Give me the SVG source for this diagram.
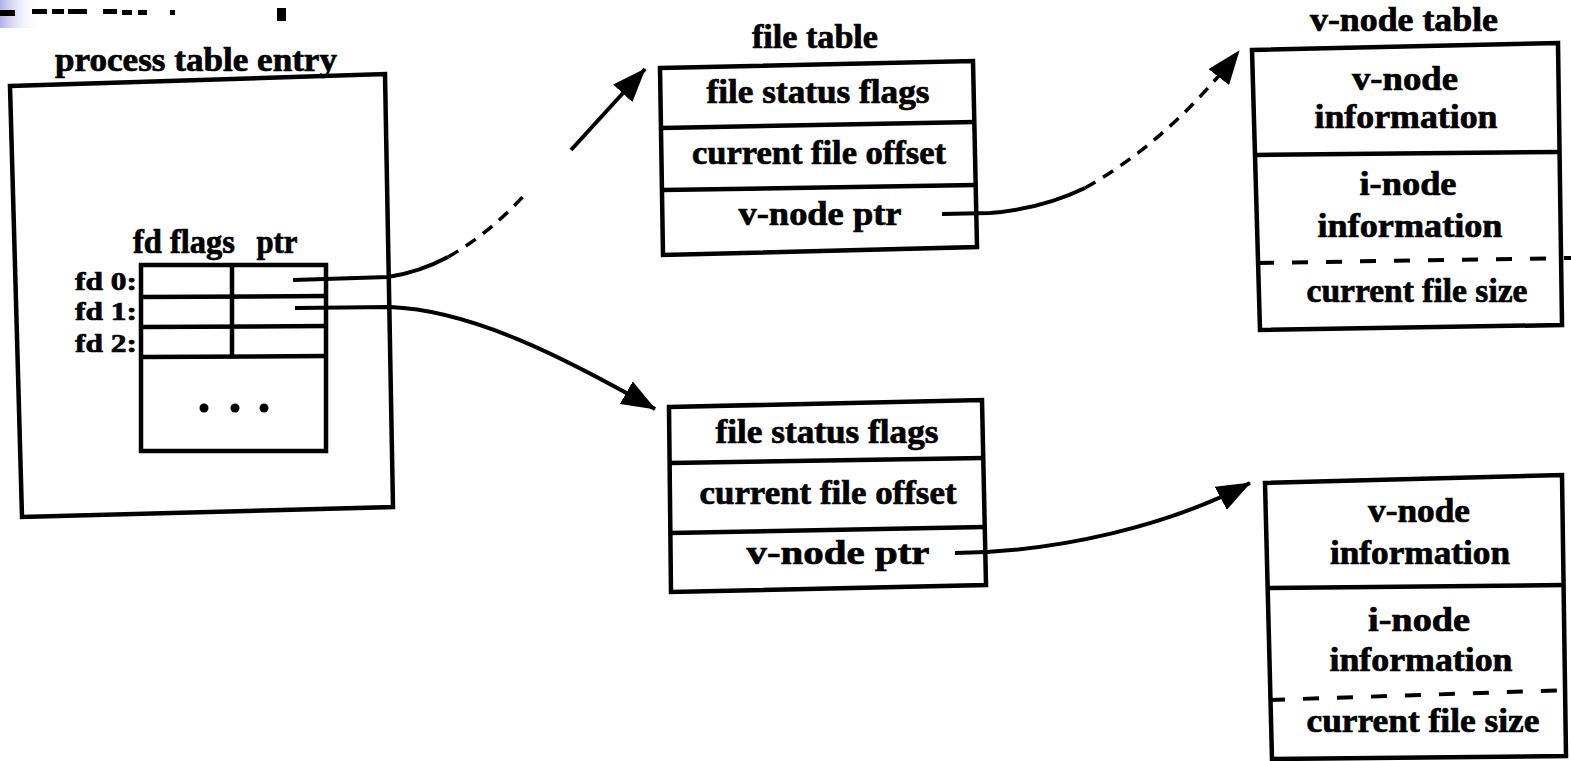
<svg xmlns="http://www.w3.org/2000/svg" width="1571" height="761" viewBox="0 0 1571 761">
<style>
.box{fill:none;stroke:#000;stroke-width:4.5;stroke-linejoin:miter}
.ln{fill:none;stroke:#000;stroke-width:4.5}
.dl{fill:none;stroke:#000;stroke-width:4;stroke-dasharray:16 18}
.cn{fill:none;stroke:#000;stroke-width:4}
.cd{fill:none;stroke:#000;stroke-width:3.5;stroke-dasharray:12 9}
text{font-family:"Liberation Serif","DejaVu Serif",serif;font-weight:bold;font-size:33px;fill:#000;stroke:#000;stroke-width:0.7;text-anchor:middle}
.fd{font-size:26px}
</style>
<defs>
<linearGradient id="bg" x1="0" y1="0" x2="1" y2="0"><stop offset="0" stop-color="#aeb2e6"/><stop offset="1" stop-color="#fff" stop-opacity="0"/></linearGradient>
<marker id="ah" markerUnits="userSpaceOnUse" markerWidth="36" markerHeight="26" refX="33" refY="13" orient="auto"><path d="M0,0 L34,13 L0,26 z" fill="#000"/></marker>
</defs>
<rect width="1571" height="761" fill="#fff"/>
<g id="fragments">
<rect x="0" y="0" width="40" height="28" fill="url(#bg)"/>
<rect x="0" y="10" width="15" height="6"/>
<rect x="32" y="9" width="15" height="5"/>
<rect x="52" y="9" width="12" height="5"/>
<rect x="68" y="9" width="19" height="5"/>
<rect x="103" y="9" width="14" height="5"/>
<rect x="122" y="10" width="10" height="5"/>
<rect x="138" y="10" width="9" height="5"/>
<rect x="170" y="10" width="5" height="5"/>
<rect x="277" y="8" width="9" height="13"/>
</g>
<g id="process-table-entry">
<text x="196" y="71" textLength="282" lengthAdjust="spacingAndGlyphs">process table entry</text>
<polygon class="box" points="10,86 385,74 393,507 22,517"/>
<text x="184" y="253" textLength="102" lengthAdjust="spacingAndGlyphs" font-size="30">fd flags</text>
<text x="277" y="253" textLength="41" lengthAdjust="spacingAndGlyphs" font-size="30">ptr</text>
<text class="fd" x="106" y="290" textLength="62" lengthAdjust="spacingAndGlyphs">fd 0:</text>
<text class="fd" x="106" y="320" textLength="62" lengthAdjust="spacingAndGlyphs">fd 1:</text>
<text class="fd" x="106" y="352" textLength="62" lengthAdjust="spacingAndGlyphs">fd 2:</text>
<rect class="box" x="141" y="265" width="185" height="186"/>
<line class="ln" x1="141" y1="297" x2="326" y2="296"/>
<line class="ln" x1="141" y1="327" x2="326" y2="326"/>
<line class="ln" x1="141" y1="357" x2="326" y2="356"/>
<line class="ln" x1="232" y1="265" x2="232" y2="357"/>
<circle cx="204" cy="408" r="4.5"/>
<circle cx="235" cy="408" r="4.5"/>
<circle cx="264" cy="408" r="4.5"/>
</g>
<g id="file-table-1">
<text x="815" y="48" textLength="126" lengthAdjust="spacingAndGlyphs" font-size="30">file table</text>
<polygon class="box" points="660,68 973,61 977,247 663,255"/>
<line class="ln" x1="661" y1="128" x2="975" y2="122"/>
<line class="ln" x1="662" y1="190" x2="976" y2="185"/>
<text x="818" y="103" textLength="223" lengthAdjust="spacingAndGlyphs">file status flags</text>
<text x="819" y="164" textLength="254" lengthAdjust="spacingAndGlyphs">current file offset</text>
<text x="820" y="225" textLength="163" lengthAdjust="spacingAndGlyphs">v-node ptr</text>
</g>
<g id="file-table-2">
<polygon class="box" points="669,407 982,400 986,585 671,592"/>
<line class="ln" x1="670" y1="463" x2="984" y2="458"/>
<line class="ln" x1="670" y1="533" x2="985" y2="527"/>
<text x="827" y="443" textLength="223" lengthAdjust="spacingAndGlyphs">file status flags</text>
<text x="828" y="504" textLength="257" lengthAdjust="spacingAndGlyphs">current file offset</text>
<text x="838" y="564" textLength="183" lengthAdjust="spacingAndGlyphs">v-node ptr</text>
</g>
<g id="v-node-table-1">
<text x="1404" y="31" textLength="188" lengthAdjust="spacingAndGlyphs" font-size="30">v-node table</text>
<polygon class="box" points="1252,50 1558,43 1562,325 1260,330"/>
<line class="ln" x1="1255" y1="155" x2="1560" y2="152"/>
<line class="dl" x1="1258" y1="263" x2="1571" y2="258"/>
<text x="1405" y="90" textLength="106" lengthAdjust="spacingAndGlyphs">v-node</text>
<text x="1406" y="128" textLength="183" lengthAdjust="spacingAndGlyphs">information</text>
<text x="1408" y="195" textLength="97" lengthAdjust="spacingAndGlyphs">i-node</text>
<text x="1410" y="237" textLength="185" lengthAdjust="spacingAndGlyphs">information</text>
<text x="1417" y="302" textLength="221" lengthAdjust="spacingAndGlyphs">current file size</text>
</g>
<g id="v-node-table-2">
<polygon class="box" points="1265,483 1562,475 1566,756 1272,759"/>
<line class="ln" x1="1267" y1="588" x2="1564" y2="585"/>
<line class="dl" x1="1269" y1="700" x2="1571" y2="690"/>
<text x="1419" y="522" textLength="102" lengthAdjust="spacingAndGlyphs">v-node</text>
<text x="1420" y="564" textLength="180" lengthAdjust="spacingAndGlyphs">information</text>
<text x="1419" y="631" textLength="102" lengthAdjust="spacingAndGlyphs">i-node</text>
<text x="1421" y="671" textLength="183" lengthAdjust="spacingAndGlyphs">information</text>
<text x="1423" y="732" textLength="233" lengthAdjust="spacingAndGlyphs">current file size</text>
</g>
<g id="connectors">
<path class="cn" d="M293,280 L388,277 Q420,272 448,257"/>
<path class="cd" d="M448,257 Q492,232 528,191"/>
<path class="cn" d="M571,150 L645,69" marker-end="url(#ah)"/>
<path class="cn" d="M295,308 L390,307 C470,310 560,355 655,409" marker-end="url(#ah)"/>
<path class="cn" d="M942,214 L990,213 C1030,210 1060,200 1085,188"/>
<path class="cd" d="M1085,188 Q1170,140 1239,51" marker-end="url(#ah)"/>
<path class="cn" d="M955,553 C1060,552 1170,525 1250,483" marker-end="url(#ah)"/>
</g>
</svg>
